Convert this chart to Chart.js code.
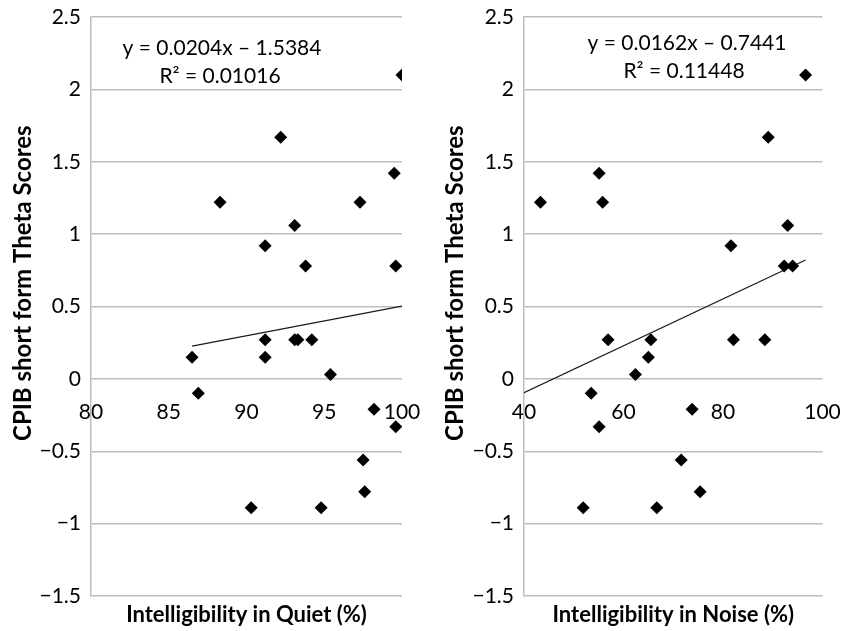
<!DOCTYPE html>
<html>
<head>
<meta charset="utf-8">
<script src="https://cdn.jsdelivr.net/npm/chart.js@4"></script>
<style>
  body { margin: 0; background: #fff; }
  #izq { position: absolute; left: 0; top: 0; }
  #der { position: absolute; left: 420px; top: 0; }
</style>
</head>
<body>
<canvas id="izq" width="420" height="631"></canvas>
<canvas id="der" width="423" height="631"></canvas>
<script>
// datos
const quietX = [100, 92.2, 99.5, 88.3, 97.3, 93.1, 91.2, 93.8, 99.6, 86.5, 86.9, 91.2, 91.2, 93.1, 93.3, 94.2, 95.4, 98.2, 99.6, 97.5, 97.6, 90.3, 94.8];
const quietY = [2.1, 1.67, 1.42, 1.22, 1.22, 1.06, 0.92, 0.78, 0.78, 0.15, -0.1, 0.27, 0.15, 0.27, 0.27, 0.27, 0.03, -0.21, -0.33, -0.56, -0.78, -0.89, -0.89];

const noiseX = [96.6, 89.1, 55.1, 43.3, 55.8, 93.0, 81.6, 92.3, 94.0, 56.9, 65.5, 65.0, 62.4, 53.5, 82.1, 88.4, 73.8, 55.1, 71.6, 75.4, 51.9, 66.7];
const noiseY = [2.1, 1.67, 1.42, 1.22, 1.22, 1.06, 0.92, 0.78, 0.78, 0.27, 0.27, 0.15, 0.03, -0.1, 0.27, 0.27, -0.21, -0.33, -0.56, -0.78, -0.89, -0.89];

// extremos de las lineas de tendencia
const trendQuiet = [{ x: 86.5, y: 0.226 }, { x: 100, y: 0.502 }];
const trendNoise = [{ x: 40, y: -0.096 }, { x: 96.6, y: 0.821 }];

const eqQuiet = ['y = 0.0204x – 1.5384', 'R² = 0.01016'];
const eqNoise = ['y = 0.0162x – 0.7441', 'R² = 0.11448'];

const yTicks = [-1.5, -1, -0.5, 0, 0.5, 1, 1.5, 2, 2.5];

const FUENTE = 'Lato, "Open Sans", sans-serif';
const GRIS = '#bdbdbd';

function puntos(xs, ys) {
    return xs.map((x, i) => ({ x: x, y: ys[i] }));
}

// quita el relleno extra que Chart.js reserva para las etiquetas
function sinRelleno(s) {
    s.paddingTop = 0;
    s.paddingBottom = 0;
    s.paddingLeft = 0;
    s.paddingRight = 0;
}

function crearGrafico(id, cfg) {
    const textoPlugin = {
        id: 'ecuacion',
        afterDraw(chart) {
            const ctx = chart.ctx;
            ctx.save();
            ctx.fillStyle = '#000';
            ctx.font = '21px ' + FUENTE;
            ctx.textAlign = 'center';
            ctx.textBaseline = 'middle';
            ctx.fillText(cfg.eq[0], cfg.eqPos[0][0], cfg.eqPos[0][1]);
            ctx.fillText(cfg.eq[1], cfg.eqPos[1][0], cfg.eqPos[1][1]);
            ctx.restore();
        }
    };

    return new Chart(document.getElementById(id), {
        type: 'scatter',
        data: {
            datasets: [{
                data: puntos(cfg.xs, cfg.ys),
                pointStyle: 'rectRot',
                pointRadius: 6.5,
                backgroundColor: '#000',
                borderColor: '#000',
                borderWidth: 0
            }, {
                type: 'line',
                data: cfg.trend,
                borderColor: '#1a1a1a',
                borderWidth: 1.2,
                pointRadius: 0,
                fill: false
            }]
        },
        options: {
            responsive: false,
            animation: false,
            layout: { padding: { top: 17, right: cfg.padDer, bottom: 0, left: 0 } },
            plugins: { legend: { display: false }, tooltip: { enabled: false } },
            scales: {
                x: {
                    type: 'linear',
                    position: { y: 0 },
                    min: cfg.xMin,
                    max: cfg.xMax,
                    grid: { display: false, drawTicks: false },
                    border: { display: false },
                    ticks: {
                        stepSize: cfg.xStep,
                        padding: 21,
                        color: '#000',
                        font: { family: FUENTE, size: 21 }
                    },
                    afterFit: sinRelleno
                },
                xTitulo: {
                    type: 'linear',
                    position: 'bottom',
                    min: cfg.xMin,
                    max: cfg.xMax,
                    grid: { display: false, drawTicks: false },
                    border: { display: false },
                    ticks: { display: false },
                    title: {
                        display: true,
                        text: cfg.xTitle,
                        color: '#000',
                        padding: { top: 0, bottom: 3 },
                        font: { family: FUENTE, size: 22, weight: 'bold' }
                    },
                    afterFit: (s) => { sinRelleno(s); s.height = 35; }
                },
                y: {
                    min: -1.5,
                    max: 2.5,
                    afterBuildTicks: (s) => { s.ticks = yTicks.map(v => ({ value: v })); },
                    grid: { color: GRIS, lineWidth: 1.5, drawTicks: false },
                    border: { color: GRIS, width: 1.5 },
                    ticks: {
                        padding: 10,
                        color: '#000',
                        font: { family: FUENTE, size: 21 },
                        callback: (v) => (v < 0 ? '−' + Math.abs(v) : String(v))
                    },
                    title: {
                        display: true,
                        text: '        CPIB short form Theta Scores',
                        color: '#000',
                        padding: { top: cfg.yTitlePad, bottom: 0 },
                        font: { family: FUENTE, size: 24, weight: 'bold' }
                    },
                    afterFit: (s) => { sinRelleno(s); s.width = cfg.yWidth; }
                }
            }
        },
        plugins: [textoPlugin]
    });
}

crearGrafico('izq', {
    xs: quietX, ys: quietY, trend: trendQuiet,
    xMin: 80, xMax: 100, xStep: 5,
    xTitle: 'Intelligibility in Quiet (%)',
    yWidth: 91, yTitlePad: 9, padDer: 18,
    eq: eqQuiet, eqPos: [[222, 48], [220, 76]]
});

crearGrafico('der', {
    xs: noiseX, ys: noiseY, trend: trendNoise,
    xMin: 40, xMax: 100, xStep: 20,
    xTitle: 'Intelligibility in Noise (%)',
    yWidth: 104, yTitlePad: 21, padDer: 20.5,
    eq: eqNoise, eqPos: [[267, 43], [264, 71]]
});
</script>
</body>
</html>
